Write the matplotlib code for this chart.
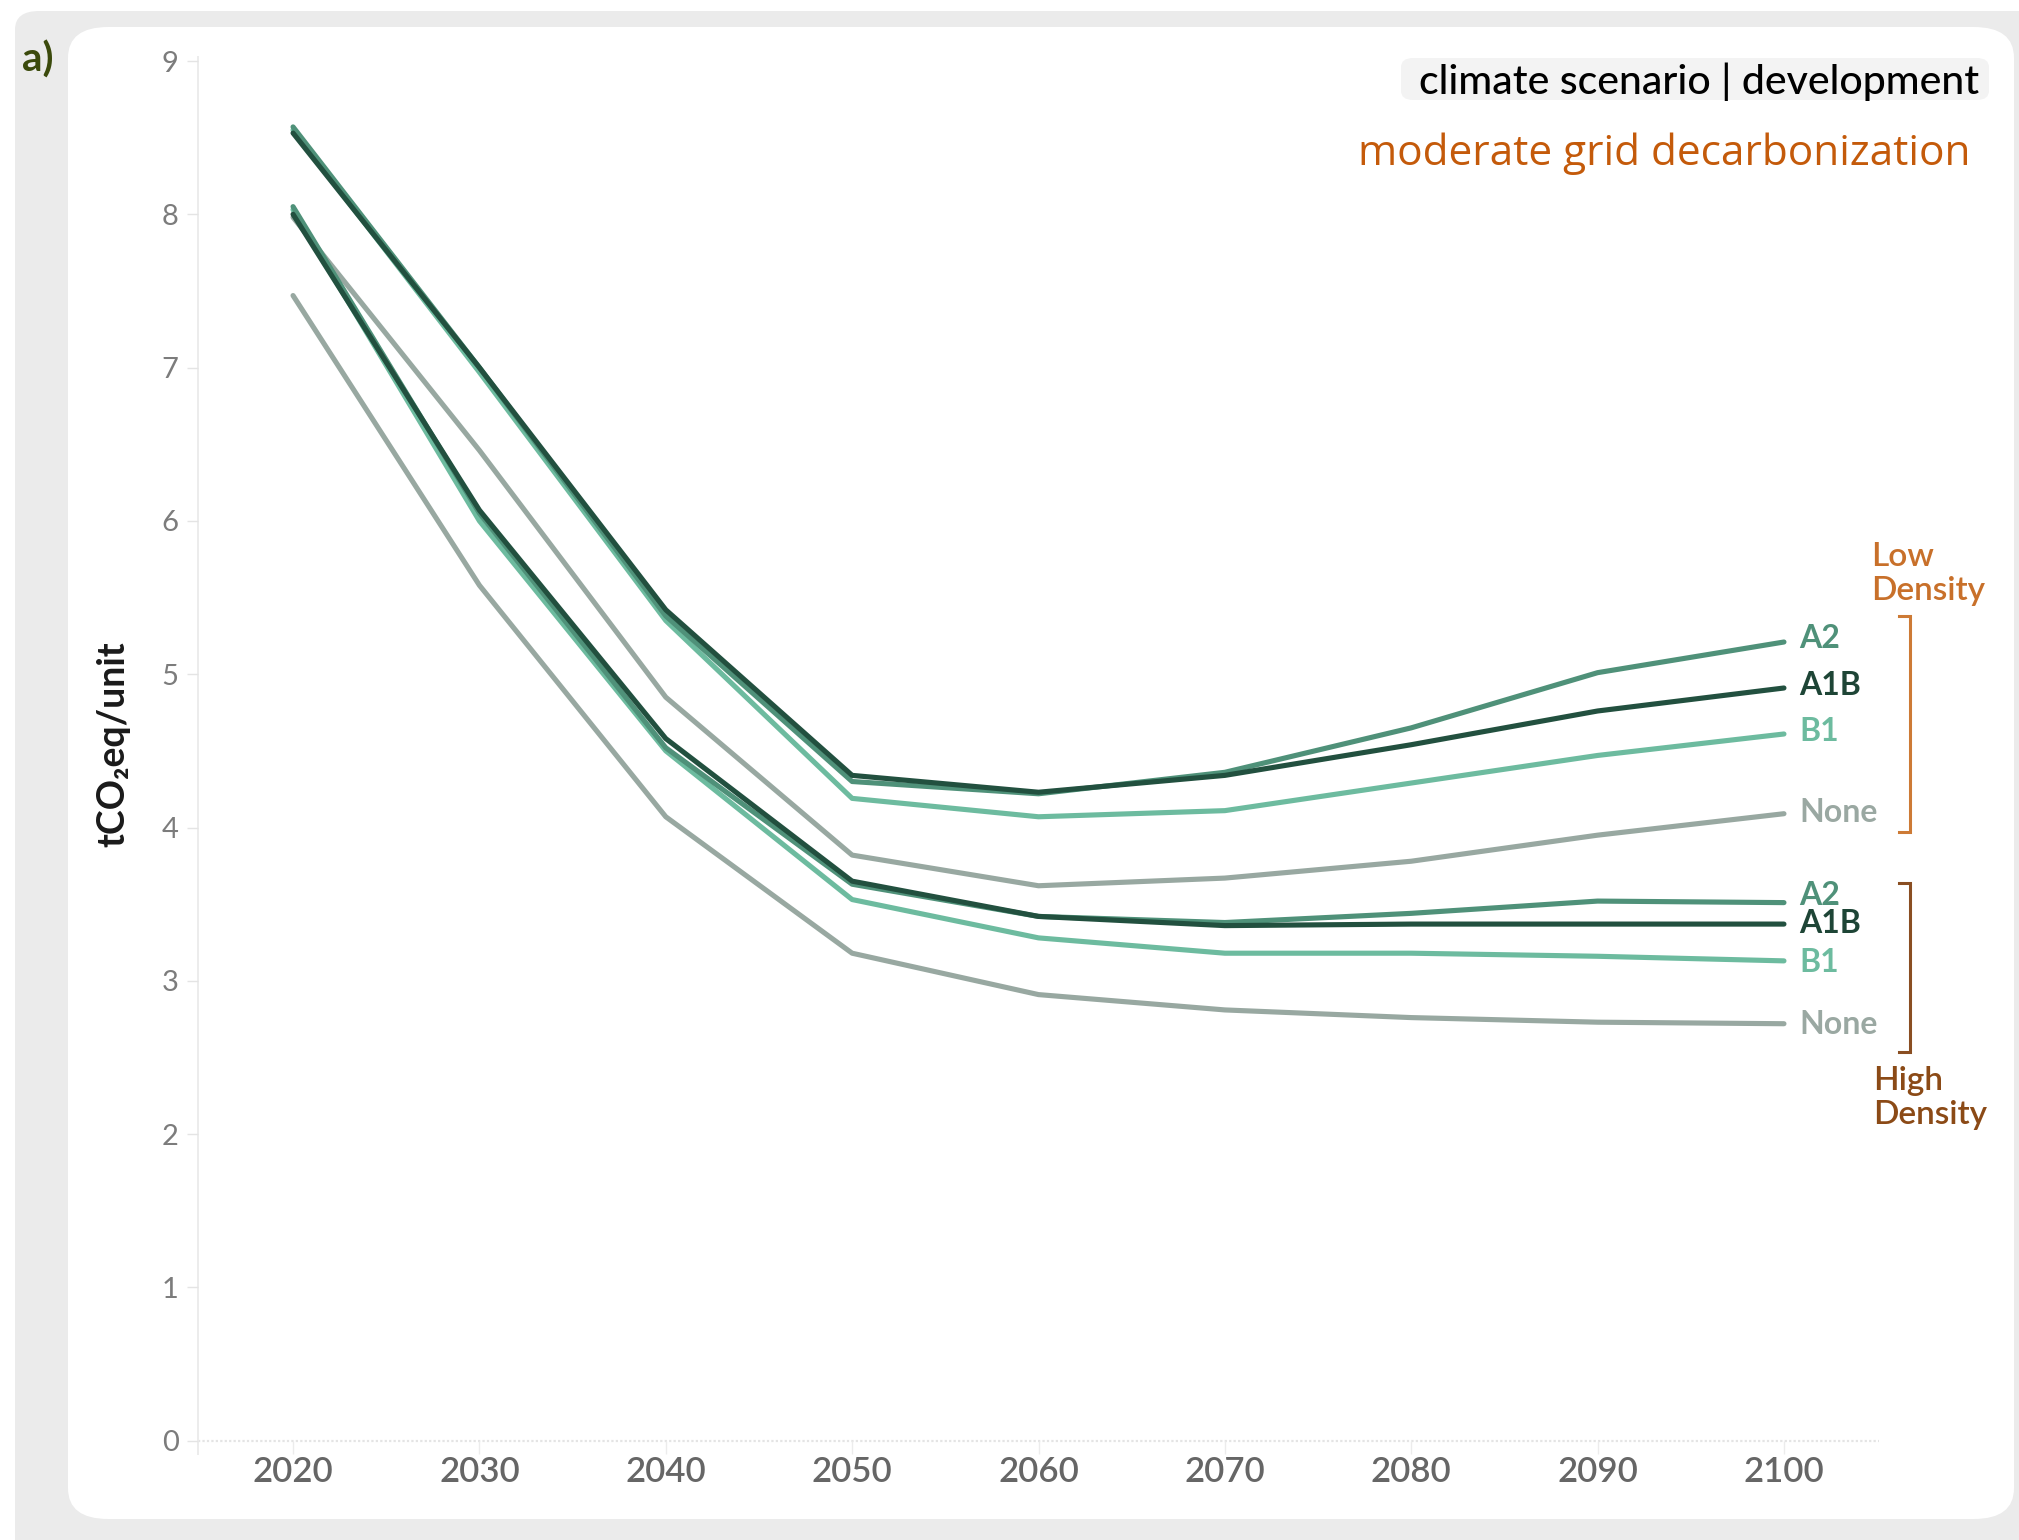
import matplotlib
matplotlib.use("Agg")
import matplotlib.pyplot as plt
from matplotlib.patches import FancyBboxPatch
from matplotlib.lines import Line2D

# ---- data -------------------------------------------------------------
years = [2020, 2030, 2040, 2050, 2060, 2070, 2080, 2090, 2100]
scenarios = ["None", "B1", "A2", "A1B"]

low_density = {
    "A2":   [8.57, 7.00, 5.38, 4.30, 4.22, 4.36, 4.65, 5.01, 5.21],
    "A1B":  [8.53, 7.00, 5.42, 4.34, 4.23, 4.34, 4.54, 4.76, 4.91],
    "B1":   [8.55, 6.97, 5.35, 4.19, 4.07, 4.11, 4.29, 4.47, 4.61],
    "None": [7.98, 6.46, 4.85, 3.82, 3.62, 3.67, 3.78, 3.95, 4.09],
}
high_density = {
    "A2":   [8.05, 6.05, 4.52, 3.63, 3.42, 3.38, 3.44, 3.52, 3.51],
    "A1B":  [8.00, 6.07, 4.58, 3.65, 3.42, 3.36, 3.37, 3.37, 3.37],
    "B1":   [8.03, 6.00, 4.50, 3.53, 3.28, 3.18, 3.18, 3.16, 3.13],
    "None": [7.47, 5.58, 4.07, 3.18, 2.91, 2.81, 2.76, 2.73, 2.72],
}
y_ticks = [0, 1, 2, 3, 4, 5, 6, 7, 8, 9]

line_colors = {"A2": "#4f9179", "A1B": "#22503f", "B1": "#6dbb9f", "None": "#98a8a1"}
text_colors = {"A2": "#4f9179", "A1B": "#1e4536", "B1": "#6dbb9f", "None": "#9aa8a2"}

# ---- figure -----------------------------------------------------------
W, H = 2019, 1540
fig = plt.figure(figsize=(W / 100, H / 100), dpi=100)
fig.patch.set_facecolor("white")


def F(x, y):
    """pixel position (from top-left) to figure fraction"""
    return x / W, 1 - y / H


# panel backgrounds
outer = FancyBboxPatch(F(15, 1600), (2100 - 15) / W, (1600 - 11) / H,
                       boxstyle="round,pad=0,rounding_size=0.012",
                       transform=fig.transFigure, facecolor="#ebebeb",
                       edgecolor="none", zorder=-10)
fig.patches.append(outer)
inner = FancyBboxPatch(F(68, 1519), (2014 - 68) / W, (1519 - 27) / H,
                       boxstyle="round,pad=0,rounding_size=0.02",
                       transform=fig.transFigure, facecolor="white",
                       edgecolor="none", zorder=-9)
fig.patches.append(inner)

# axes area
x0, x1 = 198, 1879
y_top, y_bot = 61, 1440.7
ax = fig.add_axes([x0 / W, 1 - y_bot / H, (x1 - x0) / W, (y_bot - y_top) / H])
ax.set_facecolor("none")
ax.set_xlim(2014.9, 2105.1)
ax.set_ylim(0, 9)
for s in ax.spines.values():
    s.set_visible(False)

# axis lines
ax.plot([0, 1], [0, 0], transform=ax.transAxes, color="#e4e4e4", lw=1.6,
        ls=(0, (1, 1)), clip_on=False, zorder=0)
ax.plot([0, 0], [-0.0095, 1.003], transform=ax.transAxes, color="#ececec",
        lw=1.4, clip_on=False, zorder=0)

ax.set_yticks(y_ticks)
ax.set_xticks(years)
ax.tick_params(axis="y", length=8, width=1, color="#e4e4e4", pad=6,
               labelsize=21, labelcolor="#7c7c7c")
ax.tick_params(axis="x", length=9, width=1, color="#ececec", pad=2,
               labelsize=25, labelcolor="#666666")
for lab in ax.get_yticklabels():
    lab.set_fontfamily("Lato")
    lab.set_fontweight("normal")
for lab in ax.get_xticklabels():
    lab.set_fontfamily("Lato")
    lab.set_fontweight("semibold")

# series lines
for group in (low_density, high_density):
    for name in scenarios:
        ax.plot(years, group[name], color=line_colors[name], lw=3.7,
                solid_capstyle="round", solid_joinstyle="round", zorder=2)

# end-of-line labels
low_offsets = {"A2": 4, "A1B": 2, "B1": 2, "None": 1}
high_offsets = {"A2": 7, "A1B": 1, "B1": -2, "None": -1}
for group, offs in ((low_density, low_offsets), (high_density, high_offsets)):
    for name in scenarios:
        ax.annotate(name, xy=(years[-1], group[name][-1]),
                    xytext=(15, offs[name]), textcoords="offset pixels",
                    ha="left", va="center", fontsize=23, fontweight="bold",
                    family="Lato", color=text_colors[name], annotation_clip=False)

# y-axis label
fig.text(*F(113, 744), "tCO₂eq/unit", rotation=90, ha="center", va="center",
         fontsize=27, fontweight="bold", color="#1a1a1a",
         family=["Lato", "DejaVu Sans"])

# panel tag
fig.text(*F(22, 60), "a)", ha="left", va="center", fontsize=29,
         fontweight="bold", color="#3b4a0c", family="Lato")

# header box and subtitles
hdr = FancyBboxPatch(F(1401, 100), (1989 - 1401) / W, (100 - 58) / H,
                     boxstyle="round,pad=0,rounding_size=0.006",
                     transform=fig.transFigure, facecolor="#f3f3f3",
                     edgecolor="none", zorder=1)
fig.patches.append(hdr)
fig.text(*F(1979, 82), "climate scenario | development", ha="right",
         va="center", fontsize=29.5, fontweight="medium", color="black",
         family="Lato", zorder=2)
fig.text(*F(1970, 154), "moderate grid decarbonization", ha="right",
         va="center", fontsize=30.5, color="#c45a0a", family="Open Sans")

# density brackets
low_c, low_t = "#cd7a35", "#c8702a"
high_c, high_t = "#8a4e22", "#8b4a16"


def bracket(ytop, ybot, color):
    xs = [1899, 1910, 1910, 1899]
    ys = [ytop, ytop, ybot, ybot]
    fx = [x / W for x in xs]
    fy = [1 - y / H for y in ys]
    fig.add_artist(Line2D(fx, fy, transform=fig.transFigure, color=color,
                          lw=2.2, solid_joinstyle="miter"))


bracket(616, 832, low_c)
bracket(883, 1052, high_c)
fig.text(*F(1871, 574), "Low\nDensity", ha="left", va="center", fontsize=24,
         fontweight="semibold", color=low_t, family="Lato", linespacing=1.2)
fig.text(*F(1873, 1098), "High\nDensity", ha="left", va="center", fontsize=24,
         fontweight="semibold", color=high_t, family="Lato", linespacing=1.2)

fig.savefig("out.png", dpi=100)
